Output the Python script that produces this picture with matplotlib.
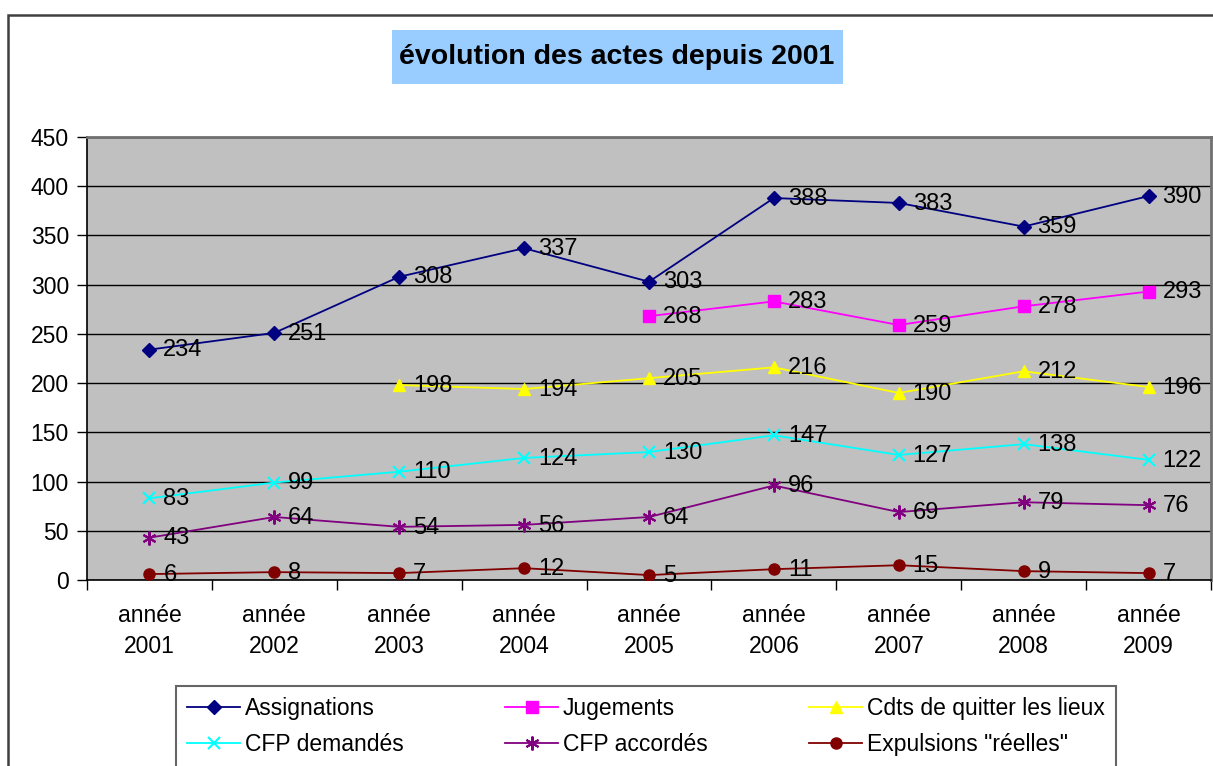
import matplotlib
matplotlib.use("Agg")
import matplotlib.pyplot as plt
from matplotlib.patches import Rectangle
import numpy as np

plt.rcParams['font.family'] = ['Liberation Sans', 'DejaVu Sans']

categories = ["année\n2001", "année\n2002", "année\n2003", "année\n2004", "année\n2005",
              "année\n2006", "année\n2007", "année\n2008", "année\n2009"]
assignations = [234, 251, 308, 337, 303, 388, 383, 359, 390]
jugements = [None, None, None, None, 268, 283, 259, 278, 293]
cdts_quitter = [None, None, 198, 194, 205, 216, 190, 212, 196]
cfp_demandes = [83, 99, 110, 124, 130, 147, 127, 138, 122]
cfp_accordes = [43, 64, 54, 56, 64, 96, 69, 79, 76]
expulsions = [6, 8, 7, 12, 5, 11, 15, 9, 7]

series = [
    ("Assignations", assignations, "#000080", "D", 7),
    ("Jugements", jugements, "#FF00FF", "s", 8),
    ("Cdts de quitter les lieux", cdts_quitter, "#FFFF00", "^", 9),
    ("CFP demandés", cfp_demandes, "#00FFFF", "x", 9),
    ("CFP accordés", cfp_accordes, "#800080", (6, 2, 0), 10),
    ("Expulsions \"réelles\"", expulsions, "#800000", "o", 8),
]

W, H = 1213, 766
fig = plt.figure(figsize=(W / 100, H / 100), dpi=100)
fig.patch.set_facecolor("white")

# outer chart border
fig.patches.append(Rectangle((8 / W, -0.05), 1.1, (H - 15) / H + 0.05, transform=fig.transFigure,
                             fill=False, edgecolor="#404040", linewidth=1.8, zorder=0))

x0, x1, ytop, ybot = 87, 1211, 137, 580
ax = fig.add_axes([x0 / W, 1 - ybot / H, (x1 - x0) / W, (ybot - ytop) / H])
ax.set_facecolor("#C0C0C0")

x = np.arange(len(categories))
handles = []
for name, vals, color, marker, ms in series:
    xs = [xi for xi, v in zip(x, vals) if v is not None]
    ys = [v for v in vals if v is not None]
    mew = 1.5 if marker in ("x",) or isinstance(marker, tuple) else 1
    h, = ax.plot(xs, ys, color=color, marker=marker, markersize=ms, linewidth=1.3,
                 markeredgewidth=mew, label=name, zorder=3)
    handles.append(h)
    for xi, yi in zip(xs, ys):
        ax.annotate(str(yi), (xi, yi), xytext=(10, -0.5), textcoords="offset points",
                    ha="left", va="center", fontsize=17, color="black", zorder=4)

ax.set_xlim(-0.5, len(categories) - 0.5)
ax.set_ylim(0, 450)
ax.set_yticks(np.arange(0, 451, 50))
ax.yaxis.grid(True, color="black", linewidth=1.0)
ax.set_axisbelow(True)

ax.set_xticks(x)
ax.set_xticklabels(categories, fontsize=16.5, linespacing=1.45)
ax.set_xticks(np.arange(-0.5, len(categories), 1), minor=True)
ax.tick_params(axis="x", which="major", length=0, pad=17)
ax.tick_params(axis="x", which="minor", length=7, width=1, direction="out")
ax.tick_params(axis="y", length=7, width=1, direction="out", labelsize=16.5, pad=6)

for s in ("left", "bottom"):
    ax.spines[s].set_color("black")
    ax.spines[s].set_linewidth(1.2)
for s in ("top", "right"):
    ax.spines[s].set_color("#707070")
    ax.spines[s].set_linewidth(2)

# title with its light-blue box
fig.patches.append(Rectangle((392 / W, 1 - 84 / H), (843 - 392) / W, 54 / H,
                             transform=fig.transFigure, facecolor="#99CCFF",
                             edgecolor="none", zorder=1))
fig.text(617 / W, 1 - 57 / H, "évolution des actes depuis 2001", ha="center", va="center",
         fontsize=20.5, fontweight="bold", zorder=2)

# legend (column-major ordering for 3 columns x 2 rows)
order = [0, 3, 1, 4, 2, 5]
leg = fig.legend([handles[i] for i in order], [handles[i].get_label() for i in order],
                 ncol=3, loc="upper left",
                 bbox_to_anchor=(176 / W, 1 - 686 / H, (1116 - 176) / W, 0),
                 mode="expand", fontsize=16.5, frameon=True, fancybox=False,
                 edgecolor="#404040", handlelength=2.3, handletextpad=0.2,
                 borderpad=0.5, labelspacing=0.55, borderaxespad=0)
leg.get_frame().set_linewidth(1.5)

fig.savefig("out.png", dpi=100)
